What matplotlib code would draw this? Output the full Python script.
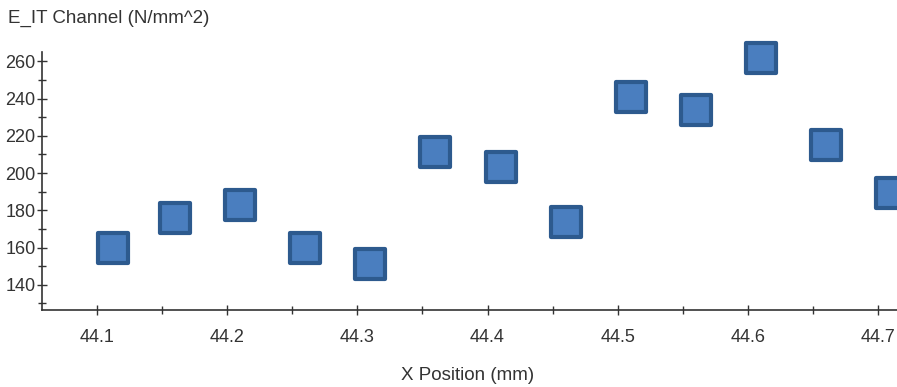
import matplotlib
matplotlib.use('Agg')
from matplotlib import pyplot as plt
from matplotlib.ticker import MultipleLocator
from matplotlib.markers import MarkerStyle

plt.rcParams['font.family'] = ['Liberation Sans', 'DejaVu Sans']

# positions et valeurs
x_pos = [44.112, 44.16, 44.21, 44.26, 44.31, 44.36, 44.41, 44.46, 44.51, 44.56, 44.61, 44.66, 44.71]
e_it = [160, 176, 183, 160, 151, 211.5, 203.5, 174, 241, 234, 262, 215, 189.5]

x_ticks = [44.1, 44.2, 44.3, 44.4, 44.5, 44.6, 44.7]
y_ticks = [140, 160, 180, 200, 220, 240, 260]

fig = plt.figure(figsize=(8.97, 3.87), dpi=100)
ax = fig.add_axes([42 / 897, 1 - 310 / 387, 1 - 42 / 897, (310 - 52) / 387])

carre = MarkerStyle('s', joinstyle='round')
ax.scatter(x_pos, e_it, marker=carre, s=21 ** 2, c='#4a7ebf', edgecolors='#2d5a8e',
           linewidths=3, zorder=3, clip_on=False)

ax.set_xlim(44.0577, 44.7146)
ax.set_ylim(126.5, 265)
ax.set_xticks(x_ticks)
ax.set_xticklabels([str(t) for t in x_ticks])
ax.set_yticks(y_ticks)
ax.xaxis.set_minor_locator(MultipleLocator(0.05))
ax.yaxis.set_minor_locator(MultipleLocator(10))

for s in ['top', 'right']:
    ax.spines[s].set_visible(False)
for s in ['left', 'bottom']:
    ax.spines[s].set_color('#333333')
    ax.spines[s].set_linewidth(1.2)

ax.tick_params(which='both', direction='inout', colors='#333333', labelsize=13)
ax.tick_params(which='major', length=7, width=1)
ax.tick_params(which='minor', length=6, width=1)
ax.tick_params(axis='x', pad=10)
ax.tick_params(axis='y', pad=1)

fig.text(8 / 897, 1 - 18 / 387, 'E_IT Channel (N/mm^2)', fontsize=13.5, color='#333333',
         va='center', ha='left')
fig.text(468 / 897, 1 - 375 / 387, 'X Position (mm)', fontsize=13.5, color='#333333',
         va='center', ha='center')

fig.savefig('out.png', dpi=100)
